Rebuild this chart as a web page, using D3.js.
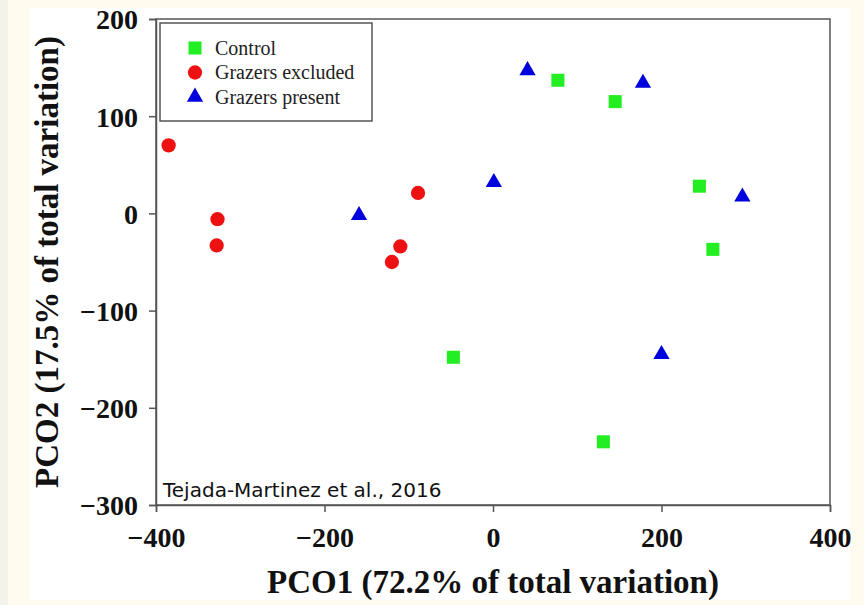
<!DOCTYPE html>
<meta charset="utf-8">
<script src="https://d3js.org/d3.v7.min.js"></script>
<style>
  body { margin: 0; background: #fffcef; }
  #my_dataviz { position: relative; width: 864px; height: 605px; }
</style>
<body>
<div id="my_dataviz"></div>
<script>

// data
const groups = ["Control", "Grazers excluded", "Grazers present"]
const controlX = [77, 145, 245, 261, -47, 131]
const controlY = [137, 115, 28, -37, -148, -235]
const excludedX = [-385, -327, -328, -89, -110, -120]
const excludedY = [70, -6, -33, 21, -34, -50]
const presentX = [-159, 1, 41, 178, 296, 200]
const presentY = [-2, 32, 147, 134, 17, -145]
const xTicks = [-400, -200, 0, 200, 400]
const yTicks = [200, 100, 0, -100, -200, -300]

const width = 864, height = 605
const margin = {top: 19, right: 34, bottom: 100, left: 156}

const svg = d3.select("#my_dataviz")
  .append("svg")
  .attr("width", width)
  .attr("height", height)

// page background: greenish strip, cream, white panel
svg.append("rect").attr("width", width).attr("height", height).attr("fill", "#fffcef")
svg.append("rect").attr("width", 8).attr("height", height).attr("fill", "#f2f4ec")
svg.append("rect").attr("x", 30).attr("y", 8).attr("width", 820).attr("height", 592).attr("fill", "#ffffff")

const x = d3.scaleLinear()
  .domain([-400, 400])
  .range([margin.left, width - margin.right])

const y = d3.scaleLinear()
  .domain([-300, 200])
  .range([height - margin.bottom, margin.top])

const axisColor = "#555"
const dash = d => d3.format("d")(d).replace("-", "\u2013")

// frame
svg.append("rect")
  .attr("x", x(-400))
  .attr("y", y(200))
  .attr("width", x(400) - x(-400))
  .attr("height", y(-300) - y(200))
  .attr("fill", "none")
  .attr("stroke", axisColor)
  .attr("stroke-width", 1.5)

// axes
const xAxis = svg.append("g")
  .attr("transform", `translate(0, ${y(-300)})`)
  .call(d3.axisBottom(x).tickValues(xTicks).tickSize(7).tickPadding(15).tickFormat(dash))
const yAxis = svg.append("g")
  .attr("transform", `translate(${x(-400)}, 0)`)
  .call(d3.axisLeft(y).tickValues(yTicks).tickSize(7).tickPadding(11).tickFormat(dash))

for (const g of [xAxis, yAxis]) {
  g.select(".domain").attr("stroke", axisColor).attr("stroke-width", 1.5)
  g.selectAll(".tick line").attr("stroke", axisColor).attr("stroke-width", 1.5)
  g.selectAll(".tick text")
    .attr("fill", "#111")
    .style("font-family", "'Liberation Serif', serif")
    .style("font-weight", "bold")
    .style("font-size", "28px")
}
yAxis.selectAll(".tick text").attr("dy", "0.35em")

// axis titles
svg.append("text")
  .attr("x", x(0))
  .attr("y", 593)
  .attr("text-anchor", "middle")
  .attr("fill", "#111")
  .style("font-family", "'Liberation Serif', serif")
  .style("font-weight", "bold")
  .style("font-size", "33px")
  .text("PCO1 (72.2% of total variation)")

svg.append("text")
  .attr("transform", `translate(58, ${(y(200) + y(-300)) / 2}) rotate(-90)`)
  .attr("text-anchor", "middle")
  .attr("fill", "#111")
  .style("font-family", "'Liberation Serif', serif")
  .style("font-weight", "bold")
  .style("font-size", "33px")
  .text("PCO2 (17.5% of total variation)")

// legend box
svg.append("rect")
  .attr("x", 160).attr("y", 23)
  .attr("width", 212).attr("height", 98)
  .attr("fill", "white")
  .attr("stroke", axisColor)
  .attr("stroke-width", 1.5)

// markers
const colors = {"Control": "#22ee22", "Grazers excluded": "#ee1111", "Grazers present": "#0000dd"}
const symbols = {"Control": d3.symbolSquare, "Grazers excluded": d3.symbolCircle, "Grazers present": d3.symbolTriangle}
const sizes = {"Control": 170, "Grazers excluded": 160, "Grazers present": 115}

const points = [
  ...controlX.map((v, i) => ({group: "Control", x: v, y: controlY[i]})),
  ...excludedX.map((v, i) => ({group: "Grazers excluded", x: v, y: excludedY[i]})),
  ...presentX.map((v, i) => ({group: "Grazers present", x: v, y: presentY[i]}))
]

svg.selectAll(".pt")
  .data(points)
  .join("path")
  .attr("class", "pt")
  .attr("transform", d => `translate(${x(d.x)}, ${y(d.y)})`)
  .attr("d", d => d3.symbol(symbols[d.group], sizes[d.group])())
  .attr("fill", d => colors[d.group])

// legend entries
const legend = svg.append("g")
groups.forEach((g, i) => {
  const ly = 48 + i * 24.5
  legend.append("path")
    .attr("transform", `translate(195, ${ly})`)
    .attr("d", d3.symbol(symbols[g], sizes[g])())
    .attr("fill", colors[g])
  legend.append("text")
    .attr("x", 215)
    .attr("y", ly)
    .attr("dy", "0.33em")
    .attr("fill", "#222")
    .style("font-family", "'Liberation Serif', serif")
    .style("font-size", "20px")
    .text(g)
})

// citation
svg.append("text")
  .attr("x", 163)
  .attr("y", 497)
  .attr("fill", "#111")
  .style("font-family", "'DejaVu Sans', sans-serif")
  .style("font-size", "20px")
  .text("Tejada-Martinez et al., 2016")

</script>
</body>
</html>
